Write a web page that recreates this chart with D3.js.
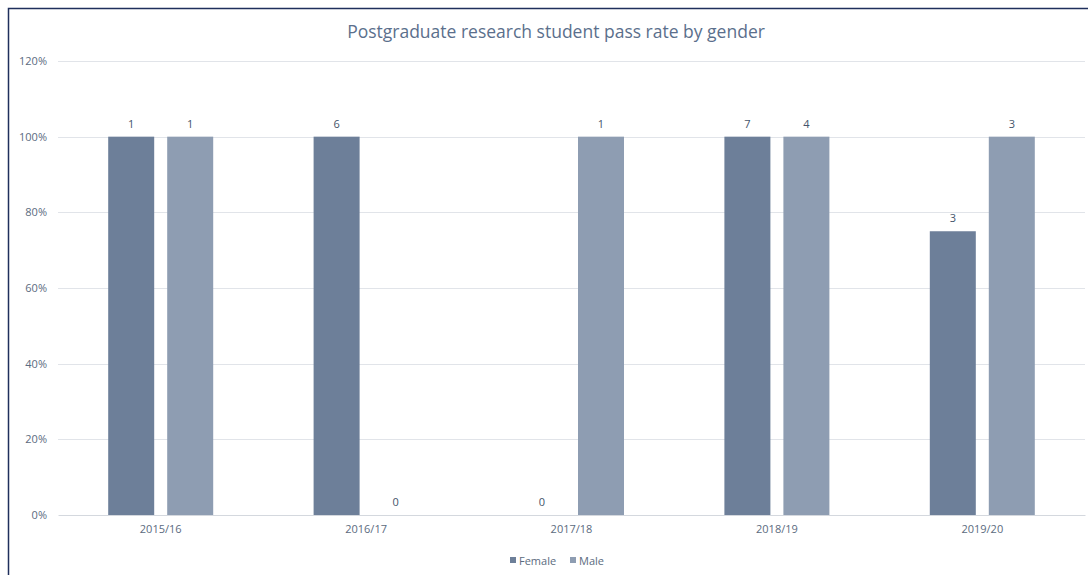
<!DOCTYPE html>
<html>
<head>
<meta charset="utf-8">
<script src="https://cdn.jsdelivr.net/npm/d3@7"></script>
<style>
    body { margin: 0; background: #fff; }
    svg text { font-family: "Open Sans", "Noto Sans", sans-serif; }
</style>
</head>
<body>
<div id="chart"></div>
<script>
//data
var years = ['2015/16', '2016/17', '2017/18', '2018/19', '2019/20'];
var genders = ['Female', 'Male'];
var femaleRate = [1.00, 1.00, 0, 1.00, 0.75];
var maleRate = [1.00, 0, 1.00, 1.00, 1.00];
var femaleCount = [1, 6, 0, 7, 3];
var maleCount = [1, 0, 1, 4, 3];
var yTicks = [0, 0.2, 0.4, 0.6, 0.8, 1.0, 1.2];

var genderColors = { Female: '#6d7f99', Male: '#8e9db2' };

//sizes
var outerW = 1088,
    outerH = 575;
var margin = { left: 58, right: 3, top: 61, bottom: 60 };
var w = outerW - margin.left - margin.right,
    h = outerH - margin.top - margin.bottom;

var rows = [];
years.forEach(function(y, i) {
    rows.push({ year: y, gender: 'Female', rate: femaleRate[i], count: femaleCount[i] });
    rows.push({ year: y, gender: 'Male', rate: maleRate[i], count: maleCount[i] });
});

var svg = d3.select('#chart').append('svg')
    .attr('width', outerW)
    .attr('height', outerH);

// frame (left + top edges visible)
svg.append('path')
    .attr('d', 'M8.5,' + outerH + 'V8.5H' + outerW)
    .attr('fill', 'none')
    .attr('stroke', '#1f2f5c')
    .attr('stroke-width', 1.5);

svg.append('text')
    .attr('x', 556)
    .attr('y', 38)
    .attr('text-anchor', 'middle')
    .attr('fill', '#5b6f8c')
    .style('font-size', '17.5px')
    .text('Postgraduate research student pass rate by gender');

var g = svg.append('g')
    .attr('transform', 'translate(' + margin.left + ',' + margin.top + ')');

//scales
var xScale = d3.scaleBand().domain(years).range([0, w]);
var yScale = d3.scaleLinear().domain([0, 1.2]).range([h, 0]);
var barW = 46, barGap = 13;
var xInner = d3.scaleOrdinal().domain(genders)
    .range([-barGap / 2 - barW, barGap / 2]);

// gridlines
g.selectAll('.grid')
    .data(yTicks.filter(function(d) { return d > 0; }))
    .enter().append('line')
    .attr('x1', 0).attr('x2', w)
    .attr('y1', function(d) { return Math.round(yScale(d)) + 0.5; })
    .attr('y2', function(d) { return Math.round(yScale(d)) + 0.5; })
    .attr('stroke', '#e1e4e9');

var yAxis = d3.axisLeft(yScale)
    .tickValues(yTicks)
    .tickSize(0)
    .tickPadding(11)
    .tickFormat(d3.format('.0%'));

g.append('g')
    .call(yAxis)
    .call(function(a) { a.select('.domain').remove(); })
    .selectAll('text')
    .attr('fill', '#5b6b80')
    .style('font-size', '11px');

// bars
g.selectAll('.bar')
    .data(rows)
    .enter().append('rect')
    .attr('class', 'bar')
    .attr('x', function(d) { return xScale(d.year) + xScale.bandwidth() / 2 + xInner(d.gender); })
    .attr('y', function(d) { return yScale(d.rate); })
    .attr('width', barW)
    .attr('height', function(d) { return h - yScale(d.rate); })
    .attr('fill', function(d) { return genderColors[d.gender]; });

// labels
g.selectAll('.lbl')
    .data(rows)
    .enter().append('text')
    .attr('x', function(d) { return xScale(d.year) + xScale.bandwidth() / 2 + xInner(d.gender) + barW / 2; })
    .attr('y', function(d) { return yScale(d.rate) - 9; })
    .attr('text-anchor', 'middle')
    .attr('fill', '#44546a')
    .style('font-size', '11px')
    .text(function(d) { return d.count; });

var xAxis = d3.axisBottom(xScale).tickSize(0).tickPadding(10);
g.append('g')
    .attr('transform', 'translate(0,' + h + ')')
    .call(xAxis)
    .call(function(a) { a.select('.domain').attr('stroke', '#d4d8de'); })
    .selectAll('text')
    .attr('fill', '#5b6b80')
    .style('font-size', '11px');

// legend
var legend = svg.append('g').attr('transform', 'translate(510,561)');
var lx = [0, 60];
genders.forEach(function(gd, i) {
    var item = legend.append('g').attr('transform', 'translate(' + lx[i] + ',0)');
    item.append('rect')
        .attr('x', 0).attr('y', -4)
        .attr('width', 6).attr('height', 6)
        .attr('fill', genderColors[gd]);
    item.append('text')
        .attr('x', 9).attr('y', 3.5)
        .attr('fill', '#5b6b80')
        .style('font-size', '11px')
        .text(gd);
});
</script>
</body>
</html>
